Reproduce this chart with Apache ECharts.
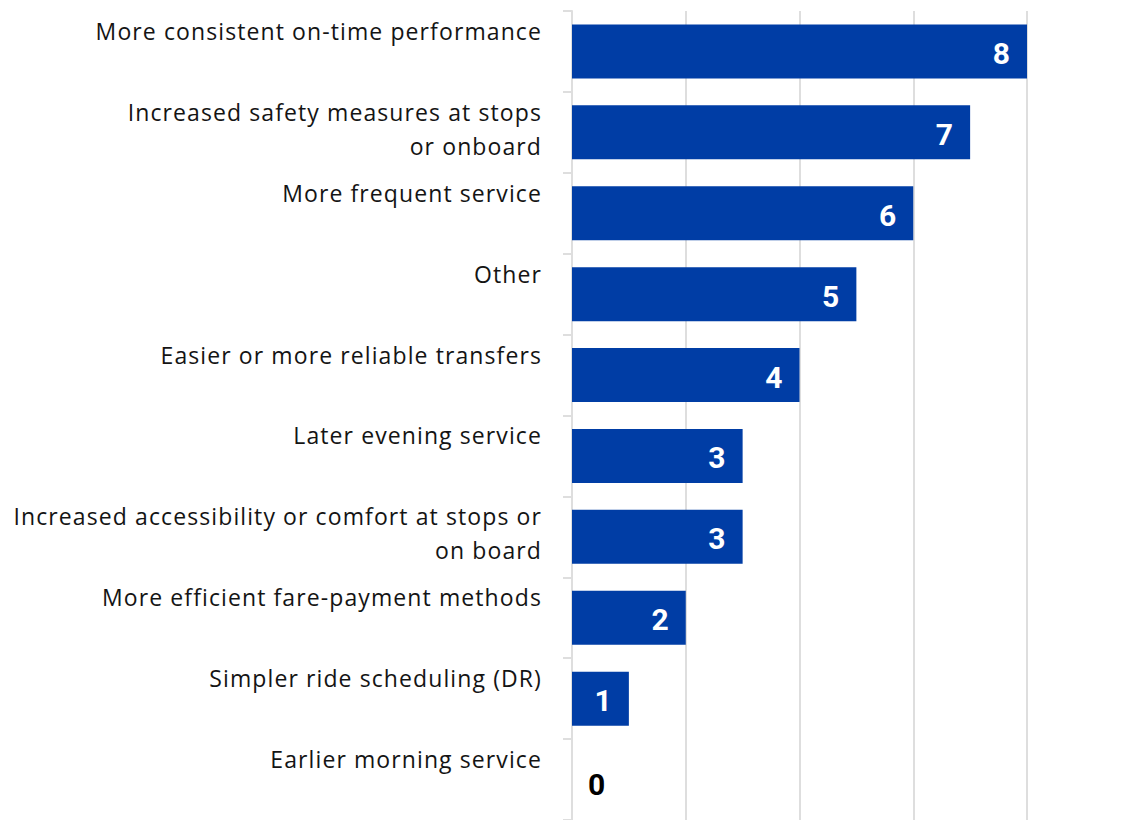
<!DOCTYPE html>
<html><head><meta charset="utf-8">
<script src="https://cdn.jsdelivr.net/npm/echarts@6/dist/echarts.min.js"></script>
<style>html,body{margin:0;padding:0;background:#fff}#c{width:1139px;height:820px}
#c text{letter-spacing:1.1px}</style>
</head><body><div id="c"></div>
<script>
var categories = [
  "More consistent on-time performance",
  "Increased safety measures at stops\nor onboard",
  "More frequent service",
  "Other",
  "Easier or more reliable transfers",
  "Later evening service",
  "Increased accessibility or comfort at stops or\non board",
  "More efficient fare-payment methods",
  "Simpler ride scheduling (DR)",
  "Earlier morning service"
];
var values = [8, 7, 6, 5, 4, 3, 3, 2, 1, 0];
var xTicks = [0, 2, 4, 6, 8];

var LH = 34;
var chart = echarts.init(document.getElementById('c'), null, {renderer: 'svg'});
chart.setOption({
  animation: false,
  grid: {left: 572, right: 112, top: 11, bottom: -8, containLabel: false},
  xAxis: {
    type: 'value', min: xTicks[0], max: xTicks[xTicks.length - 1], interval: xTicks[1] - xTicks[0],
    axisLabel: {show: false}, axisLine: {show: false}, axisTick: {show: false},
    splitLine: {show: true, lineStyle: {color: '#dedede', width: 2}}
  },
  yAxis: {
    type: 'category', data: categories, inverse: true,
    axisLine: {show: true, lineStyle: {color: '#dedede', width: 2}},
    axisTick: {show: true, length: 9, lineStyle: {color: '#dedede', width: 2}},
    axisLabel: {
      margin: 30, color: '#141414', fontFamily: 'Open Sans', fontSize: 23, lineHeight: LH,
      align: 'right', verticalAlign: 'middle',
      formatter: function (v) {
        var n = v.split('\n').length;
        return v + '\n' + (n === 1 ? '{s| }' : '{s2| }');
      },
      rich: {s: {lineHeight: 41, fontSize: 1}, s2: {lineHeight: 7, fontSize: 1}}
    }
  },
  series: [{
    type: 'bar', barWidth: 54,
    data: values.map(function (v) {
      return v === 0
        ? {value: v, label: {position: 'insideLeft', color: '#000', distance: 16, offset: [0, 5]}}
        : v;
    }),
    itemStyle: {color: '#003da5'},
    label: {show: true, position: 'insideRight', distance: 16, color: '#fff', offset: [0, 2],
      fontFamily: 'Roboto', fontWeight: 'bold', fontSize: 30}
  }]
});
</script></body></html>
